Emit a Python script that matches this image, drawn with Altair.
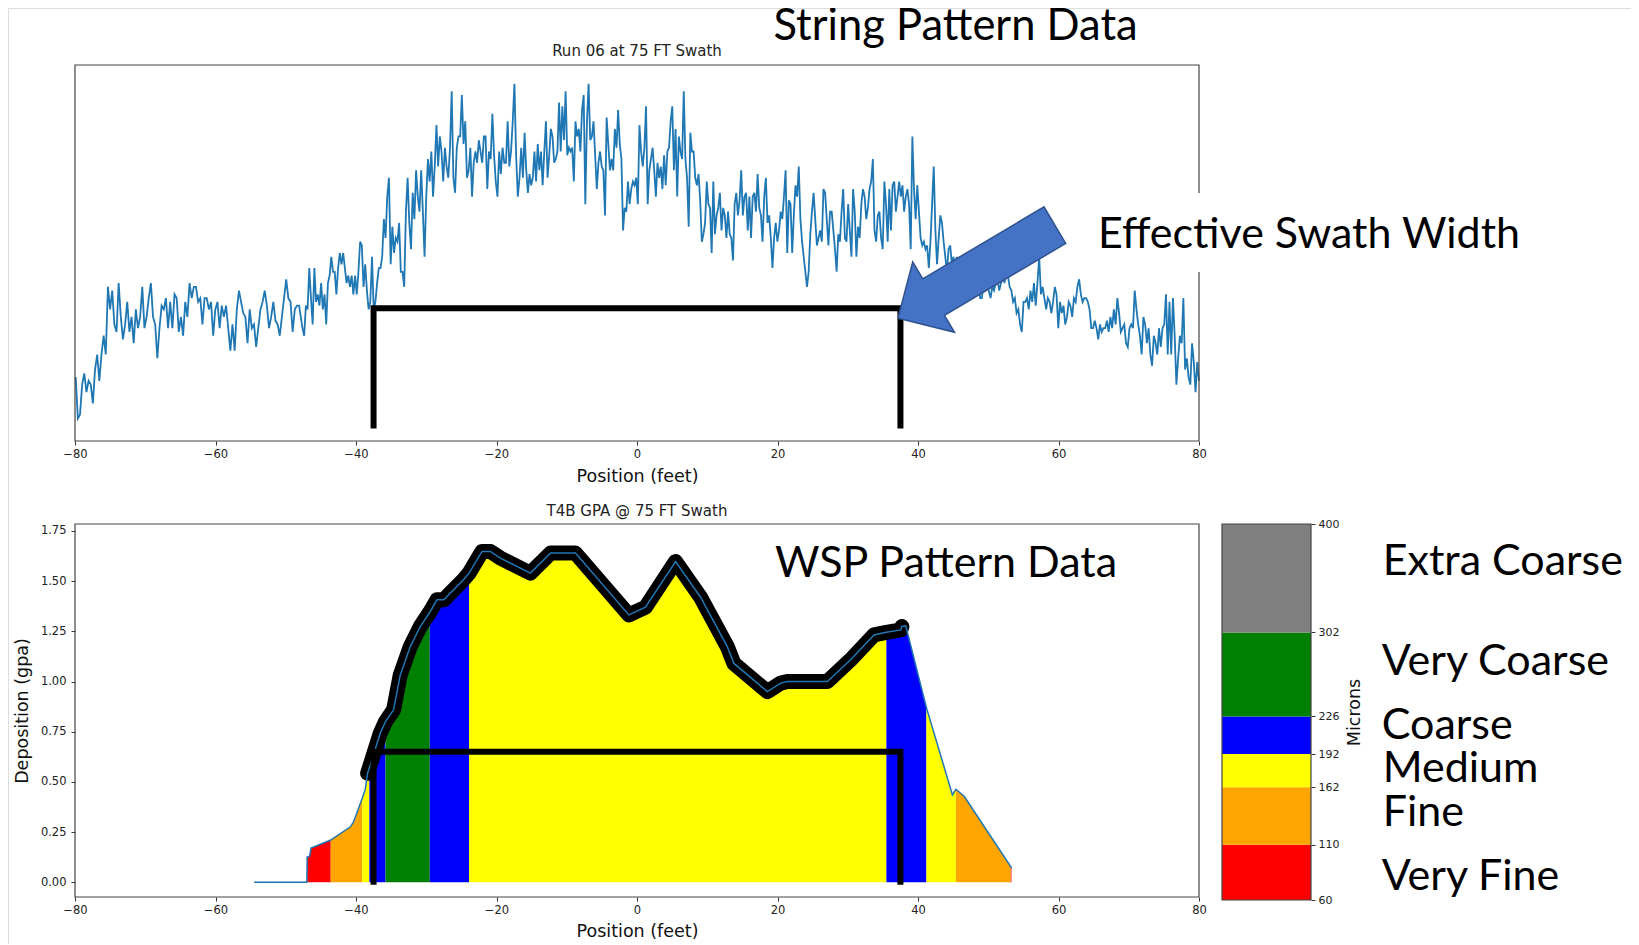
import altair as alt
import numpy as np
import pandas as pd

W, H = 1623, 936

# ---------------- String pattern data (top panel) ----------------
# relative deposition, arbitrary units (0 = bottom of axes, 100 = top of axes)
string_block_edges = [-79.9, -48.1, -16.0, 16.0, 48.1, 80.0]
string_block_1 = [17, 6, 7, 15, 18, 13, 16, 15, 10, 19, 23, 16, 23, 28, 23, 41, 35, 40, 31, 29,
                  42, 33, 27, 31, 37, 29, 33, 26, 35, 30, 33, 41, 30, 33, 38, 42, 33, 31, 22, 30,
                  36, 35, 38, 30, 37, 30, 39, 38, 29, 33, 28, 37, 33, 42, 38, 41, 41, 37, 38, 31,
                  38, 38, 35, 37, 28, 35, 37, 30, 36, 33, 36, 30, 24, 31, 24, 35, 40, 37, 34, 33,
                  26, 35, 30, 31, 25, 30, 35, 37, 40, 36, 30, 33, 37, 32, 31, 28, 33, 38, 43, 38,
                  37, 29, 35, 36]
string_block_2 = [36, 33, 30, 28, 36, 35, 46, 38, 31, 46, 37, 39, 36, 42, 35, 39, 31, 42, 44, 49,
                  45, 45, 39, 46, 50, 47, 50, 46, 42, 44, 41, 44, 39, 44, 39, 45, 53, 52, 41, 47,
                  40, 35, 37, 49, 35, 37, 42, 46, 46, 49, 59, 54, 65, 70, 47, 57, 50, 54, 53, 58,
                  45, 45, 41, 61, 70, 58, 51, 66, 59, 72, 65, 61, 72, 61, 49, 65, 75, 69, 77, 65,
                  73, 84, 73, 81, 77, 69, 78, 73, 70, 78, 93, 70, 66, 78, 81, 81, 92, 79, 85, 70,
                  72, 78, 65, 74, 77, 74, 80, 77, 74, 81, 81, 67, 77, 75, 87, 76, 69, 65, 77, 71,
                  78, 74, 74, 85, 73, 77, 85, 95, 76, 65, 70, 78, 70]
string_block_3 = [82, 72, 66, 71, 68, 70, 77, 69, 79, 72, 77, 68, 77, 85, 70, 76, 83, 81, 74, 75,
                  77, 90, 77, 89, 80, 93, 76, 78, 77, 78, 69, 85, 81, 83, 77, 88, 92, 63, 85, 95,
                  80, 81, 85, 76, 67, 74, 77, 73, 72, 60, 86, 79, 72, 75, 72, 83, 78, 88, 79, 75,
                  56, 62, 61, 69, 63, 67, 69, 68, 70, 63, 84, 77, 73, 78, 89, 63, 72, 75, 78, 72,
                  65, 74, 70, 73, 67, 76, 68, 77, 78, 85, 89, 72, 83, 65, 81, 77, 75, 93, 75, 70,
                  57, 82, 77, 77, 70, 68, 71, 64, 53, 55, 58, 69, 63, 62, 50, 69, 55, 60, 62, 66,
                  56, 62, 60, 54, 61, 55, 54, 48, 63, 66, 60, 64, 72, 60, 65, 66, 56]
string_block_4 = [65, 54, 65, 66, 61, 71, 62, 60, 53, 65, 70, 58, 60, 54, 46, 54, 58, 53, 56, 61,
                  59, 65, 72, 50, 64, 63, 50, 60, 68, 65, 73, 59, 53, 49, 45, 41, 45, 55, 61, 66,
                  59, 52, 54, 56, 53, 67, 66, 59, 52, 61, 61, 56, 51, 45, 55, 53, 61, 67, 54, 53,
                  63, 56, 49, 67, 61, 49, 57, 54, 63, 67, 65, 59, 62, 67, 69, 75, 56, 53, 60, 61,
                  54, 51, 69, 63, 53, 67, 56, 68, 69, 61, 65, 69, 65, 68, 61, 65, 67, 63, 51, 81,
                  67, 59, 68, 61, 54, 52, 53, 51, 52, 46, 53, 63, 73, 56, 47, 54, 60, 58, 53, 49,
                  45, 51, 52, 47, 49, 45, 49, 44, 47, 45, 42, 46, 44, 45, 43, 45, 42]
string_block_5 = [42, 41, 44, 38, 38, 42, 40, 42, 40, 38, 41, 40, 42, 43, 40, 42, 44, 42, 45, 44,
                  41, 40, 37, 38, 34, 35, 31, 29, 37, 37, 38, 35, 40, 37, 42, 36, 42, 49, 39, 41,
                  38, 35, 38, 37, 34, 37, 41, 39, 30, 37, 34, 36, 31, 33, 37, 36, 33, 38, 37, 41,
                  43, 39, 37, 38, 38, 37, 35, 30, 30, 32, 30, 27, 31, 29, 30, 30, 32, 29, 33, 30,
                  35, 31, 38, 34, 29, 30, 31, 26, 25, 30, 31, 30, 40, 35, 31, 28, 23, 33, 31, 26,
                  30, 23, 20, 28, 26, 23, 30, 25, 30, 31, 39, 23, 37, 23, 38, 28, 15, 22, 28, 26,
                  38, 19, 22, 17, 15, 26, 21, 13, 21, 16]
string_blocks = [string_block_1, string_block_2, string_block_3, string_block_4, string_block_5]

swath_edges = [-37.5, 37.5]
string_bracket_level = 35.3
string_bracket_foot = 3.3

# ---------------- WSP pattern data (bottom panel) ----------------
wsp_x = [-54.5, -47.0, -46.95, -46.6, -46.4, -43.6, -40.8, -40.35, -39.1, -38.7, -38.35, -38.1,
         -36.55, -35.8, -34.65, -33.7, -32.27, -30.85, -29.5, -28.47, -27.5, -26.6, -24.7, -23.9,
         -22.06, -20.87, -19.45, -15.18, -12.3, -8.76, -1.16, 1.21, 5.49, 9.05, 12.85, 13.8,
         18.55, 20.45, 21.4, 27.1, 30.4, 33.74, 35.5, 37.55, 37.7, 38.26, 41.2, 44.9, 45.4, 46.6,
         53.2, 53.3]
wsp_gpa = [0.0, 0.0, 0.125, 0.13, 0.17, 0.21, 0.276, 0.30, 0.42, 0.46, 0.543, 0.57,
           0.742, 0.80, 0.859, 1.033, 1.174, 1.274, 1.345, 1.407, 1.407, 1.44, 1.507, 1.54,
           1.648, 1.648, 1.615, 1.54, 1.64, 1.64, 1.332, 1.37, 1.598, 1.42, 1.174, 1.09,
           0.95, 0.992, 1.0, 1.0, 1.108, 1.232, 1.245, 1.257, 1.274, 1.277, 0.87, 0.435, 0.463, 0.427,
           0.078, 0.07]
# droplet-size class of each stretch of the pattern
class_start = [-46.95, -43.6, -39.1, -38.1, -35.8, -29.5, -23.9, 35.5, 41.2, 45.4, 53.2]
class_end = [-43.6, -39.1, -38.1, -35.8, -29.5, -23.9, 35.5, 41.2, 45.4, 53.2, 53.3]
class_name = ["Very Fine", "Fine", "Medium", "Coarse", "Very Coarse", "Coarse", "Medium",
              "Coarse", "Medium", "Fine", "Very Fine"]
outline_range = [-38.4, 37.8]
wsp_bracket_level = 0.65
wsp_bracket_foot = -0.013

# ---------------- Colour bar ----------------
micron_breaks = [60, 110, 162, 192, 226, 302, 400]
micron_names = ["Very Fine", "Fine", "Medium", "Coarse", "Very Coarse", "Extra Coarse"]
class_colors = {"Very Fine": "#ff0000", "Fine": "#ffa500", "Medium": "#ffff00",
                "Coarse": "#0000ff", "Very Coarse": "#008000", "Extra Coarse": "#808080"}

# ---------------- build tables ----------------
xs, ys = [], []
for k, blk in enumerate(string_blocks):
    last = k == len(string_blocks) - 1
    xs.extend(np.linspace(string_block_edges[k], string_block_edges[k + 1], len(blk), endpoint=last))
    ys.extend(blk)
string_df = pd.DataFrame({"x": xs, "y": ys})
sbr_df = pd.DataFrame({"i": [0, 1, 2, 3],
                       "x": [swath_edges[0], swath_edges[0], swath_edges[1], swath_edges[1]],
                       "y": [string_bracket_foot, string_bracket_level, string_bracket_level, string_bracket_foot]})
top_frame = pd.DataFrame({"x": [-80], "x2": [80], "y": [0], "y2": [100]})

wsp_df = pd.DataFrame({"x": wsp_x, "y": wsp_gpa})
rows = []
for i, (a, b, nm) in enumerate(zip(class_start, class_end, class_name)):
    for x, y in zip(wsp_x, wsp_gpa):
        if a - 1e-9 <= x <= b + 1e-9:
            rows.append({"seg": i, "x": x, "y": y, "z": 0.0, "c": class_colors[nm]})
fill_df = pd.DataFrame(rows)
outline_df = wsp_df[(wsp_df.x >= outline_range[0]) & (wsp_df.x <= outline_range[1])]
wbr_df = pd.DataFrame({"i": [0, 1, 2, 3],
                       "x": [swath_edges[0], swath_edges[0], swath_edges[1], swath_edges[1]],
                       "y": [wsp_bracket_foot, wsp_bracket_level, wsp_bracket_level, wsp_bracket_foot]})
ylo, yhi = -0.0737, 1.7848
bot_frame = pd.DataFrame({"x": [-80], "x2": [80], "y": [ylo], "y2": [yhi]})

cbar_df = pd.DataFrame({"lo": micron_breaks[:-1], "hi": micron_breaks[1:],
                        "c": [class_colors[n] for n in micron_names], "a": 0, "b": 1})
cbar_frame = pd.DataFrame({"lo": [60], "hi": [400], "a": [0], "b": [1]})

# ---------------- styles ----------------
FONT = "DejaVu Sans"
ax = dict(grid=False, domain=False, tickColor="#333", tickSize=4, labelFont=FONT,
          labelFontSize=11.5, labelColor="#222", labelFlush=False, labelOverlap=False,
          titleFont=FONT, titleFontWeight="normal", titleColor="#111")
xticks = list(range(-80, 81, 20))

# top panel
xs_top = alt.Scale(domain=[-80, 80], range=[67, 1191], nice=False, zero=False)
ys_top = alt.Scale(domain=[0, 100], range=[433, 57], nice=False, zero=False)
x_top_axis = alt.Axis(orient="bottom", offset=433 - H, values=xticks, format="d",
                      title="Position (feet)", titleFontSize=17.5, titlePadding=8, labelPadding=3, **ax)
X_top = alt.X("x:Q", scale=xs_top, axis=x_top_axis)
Y_top = alt.Y("y:Q", scale=ys_top, axis=None)

top = alt.layer(
    alt.Chart(string_df).mark_line(color="#1f77b4", strokeWidth=1.8).encode(x=X_top, y=Y_top),
    alt.Chart(sbr_df).mark_line(color="black", strokeWidth=6, strokeJoin="miter", strokeCap="butt").encode(
        x=X_top, y=Y_top, order="i:Q"),
    alt.Chart(top_frame).mark_rect(fill=None, stroke="#444", strokeWidth=1.2).encode(
        x=X_top, x2="x2:Q", y=Y_top, y2="y2:Q"),
)

# bottom panel
xs_bot = alt.Scale(domain=[-80, 80], range=[67, 1191], nice=False, zero=False)
ys_bot = alt.Scale(domain=[ylo, yhi], range=[889, 516], nice=False, zero=False)
x_bot_axis = alt.Axis(orient="bottom", offset=889 - H, values=xticks, format="d",
                      title="Position (feet)", titleFontSize=17.5, titlePadding=7, labelPadding=3, **ax)
y_bot_axis = alt.Axis(orient="left", offset=-67, values=[0, 0.25, 0.5, 0.75, 1.0, 1.25, 1.5, 1.75],
                      format=".2f", title="Deposition (gpa)", titleFontSize=17.5, titlePadding=9,
                      labelPadding=5, **ax)
X_bot = alt.X("x:Q", scale=xs_bot, axis=x_bot_axis)
Y_bot = alt.Y("y:Q", scale=ys_bot, axis=y_bot_axis, stack=None)

bottom = alt.layer(
    alt.Chart(fill_df).mark_area(opacity=1, interpolate="linear").encode(
        x=X_bot, y=Y_bot, y2="z:Q", color=alt.Color("c:N", scale=None), detail="seg:N"),
    alt.Chart(outline_df).mark_line(color="black", strokeWidth=15, strokeCap="round", strokeJoin="round").encode(
        x=X_bot, y=Y_bot),
    alt.Chart(wsp_df).mark_line(color="#1f77b4", strokeWidth=1.5).encode(x=X_bot, y=Y_bot),
    alt.Chart(wbr_df).mark_line(color="black", strokeWidth=6, strokeJoin="miter", strokeCap="butt").encode(
        x=X_bot, y=Y_bot, order="i:Q"),
    alt.Chart(bot_frame).mark_rect(fill=None, stroke="#444", strokeWidth=1.2).encode(
        x=X_bot, x2="x2:Q", y=Y_bot, y2="y2:Q"),
)

# colour bar
xs_cb = alt.Scale(domain=[0, 1], range=[1214, 1303], nice=False, zero=False)
ys_cb = alt.Scale(domain=[60, 400], range=[892, 516], nice=False, zero=False)
cb_axis = alt.Axis(orient="right", offset=1303 - W, values=micron_breaks, title="Microns",
                   titleFontSize=17.5, titleAngle=270, titleBaseline="top", titlePadding=7,
                   labelPadding=3, **{**ax, "labelFontSize": 11})
X_cb = alt.X("a:Q", scale=xs_cb, axis=None)
Y_cb = alt.Y("lo:Q", scale=ys_cb, axis=cb_axis)
cbar = alt.layer(
    alt.Chart(cbar_df).mark_rect().encode(x=X_cb, x2="b:Q", y=Y_cb, y2="hi:Q",
                                          color=alt.Color("c:N", scale=None)),
    alt.Chart(cbar_frame).mark_rect(fill=None, stroke="#444", strokeWidth=1.2).encode(
        x=X_cb, x2="b:Q", y=Y_cb, y2="hi:Q"),
)

# annotations
def label(text, x, y, size, font="Lato", align="left", baseline="alphabetic", color="black"):
    return alt.Chart(pd.DataFrame({"t": [text]})).mark_text(
        align=align, baseline=baseline, font=font, fontSize=size, color=color).encode(
        x=alt.value(x), y=alt.value(y), text="t:N")

box = alt.Chart(pd.DataFrame({"t": [0]})).mark_rect(fill="white", stroke=None).encode(
    x=alt.value(1077), x2=alt.value(1522), y=alt.value(185), y2=alt.value(264))

arrow_path = "M -1 -0.233 L 0.545 -0.233 L 0.545 -0.449 L 1 0 L 0.545 0.449 L 0.545 0.233 L -1 0.233 Z"
arrow = alt.Chart(pd.DataFrame({"t": [0]})).mark_point(
    shape=arrow_path, filled=True, fill="#4472C4", stroke="#2F528F", strokeWidth=1.5,
    size=33306, angle=149.3, opacity=1, fillOpacity=1).encode(x=alt.value(968.4), y=alt.value(263.7))

BIG = 43
texts = [
    label("Run 06 at 75 FT Swath", 629, 43, 15, font=FONT, align="center", baseline="middle", color="#222"),
    label("T4B GPA @ 75 FT Swath", 629, 503, 15, font=FONT, align="center", baseline="middle", color="#222"),
    label("String Pattern Data", 765.5, 31.5, 43.5),
    label("Effective Swath Width", 1090, 240.3, BIG),
    label("WSP Pattern Data", 767, 568.7, BIG),
    label("Extra Coarse", 1374.7, 567, BIG),
    label("Very Coarse", 1373.7, 667, BIG),
    label("Coarse", 1373.7, 731.3, BIG),
    label("Medium", 1374.7, 773.7, BIG),
    label("Fine", 1374.7, 818, BIG),
    label("Very Fine", 1373.7, 882, BIG),
]

chart = alt.layer(top, bottom, cbar, box, arrow, *texts).resolve_scale(
    x="independent", y="independent").resolve_axis(x="independent", y="independent").properties(
    width=W, height=H, padding=0, autosize=alt.AutoSizeParams(type="none")).configure_view(
    stroke=None, strokeWidth=0).configure(background="white")

chart.save("out.html", embed_options={"renderer": "svg", "actions": False})
